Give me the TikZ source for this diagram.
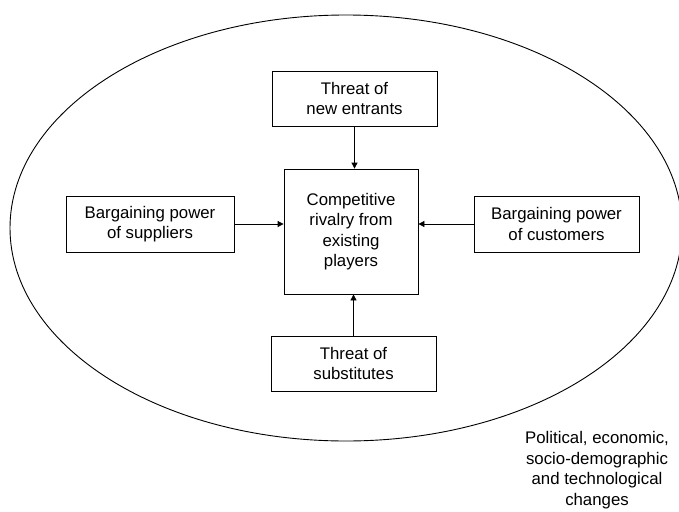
\documentclass[tikz,border=0pt]{standalone}
\usepackage{fontspec}
\setmainfont{Liberation Sans}
\usetikzlibrary{arrows.meta, positioning}

\begin{document}
\begin{tikzpicture}[
    x=1pt, y=-1pt,
    every node/.style={font=\fontsize{16.8}{20.5}\selectfont, align=center},
    box/.style={draw, line width=0.8pt, inner sep=0pt},
    arrow/.style={-{Triangle[length=6pt, width=6pt]}, line width=0.8pt}
]
\useasboundingbox (0,0) rectangle (679,511);
\clip (0,0) rectangle (679,511);

% environment
\draw[line width=0.9pt] (346,228) ellipse [x radius=336, y radius=213];

\node[box, minimum width=134, minimum height=125] (rival) at (351,231.5) {Competitive\\rivalry from\\existing\\players};
\node[box, minimum width=165, minimum height=55] (entr) at (354.5,98.5) {Threat of\\new entrants};
\node[box, minimum width=168, minimum height=56] (supp) at (150,224) {Bargaining power\\of suppliers};
\node[box, minimum width=165, minimum height=56] (cust) at (556.5,224) {Bargaining power\\of customers};
\node[box, minimum width=165, minimum height=55] (subs) at (353.5,363.5) {Threat of\\substitutes};

\node (env) at (597,470) {Political, economic,\\socio-demographic\\and technological\\changes};

% forces
\draw[arrow] (entr.south) -- (entr.south |- rival.north);
\draw[arrow] (supp.east) -- (supp.east -| rival.west);
\draw[arrow] (cust.west) -- (cust.west -| rival.east);
\draw[arrow] (subs.north) -- (subs.north |- rival.south);

\end{tikzpicture}
\end{document}
